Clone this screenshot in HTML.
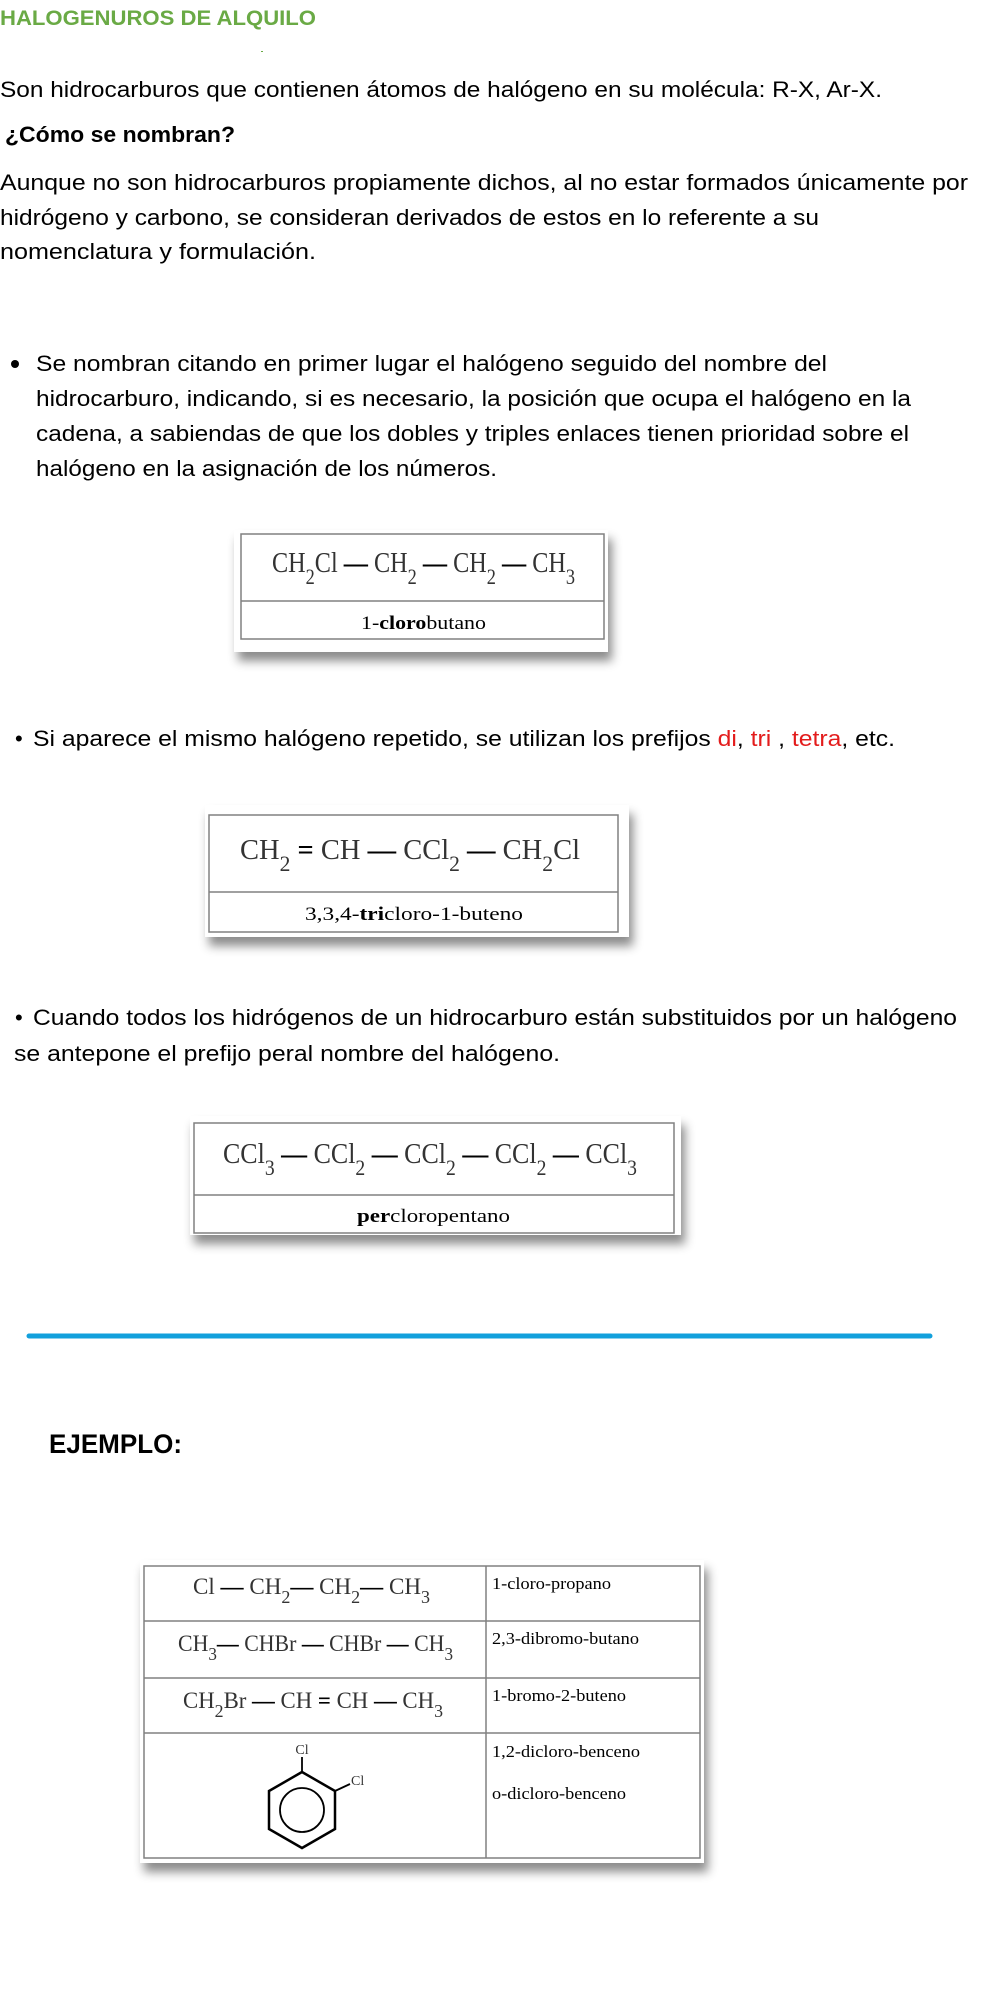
<!DOCTYPE html>
<html><head><meta charset="utf-8"><style>
html,body{margin:0;padding:0;background:#fff;width:984px;height:2004px;overflow:hidden}
svg{display:block}
.b{font-family:"Liberation Sans",sans-serif;font-size:22px;fill:#000}
.f{font-family:"Liberation Serif",serif;font-size:29px;fill:#333}
.s{font-size:22px}
.l{font-family:"Liberation Serif",serif;font-size:19px;fill:#000}
.t{font-family:"Liberation Serif",serif;font-size:23px;fill:#333}
.tl{font-family:"Liberation Serif",serif;font-size:17px;fill:#000}
.box{fill:#fff;filter:url(#sh)}
.in{fill:none;stroke:#808080;stroke-width:1.5}
</style></head><body>
<svg width="984" height="2004" viewBox="0 0 984 2004" xmlns="http://www.w3.org/2000/svg">
<defs><filter id="sh" x="-10%" y="-10%" width="125%" height="140%"><feDropShadow dx="4" dy="9" stdDeviation="5" flood-color="#000" flood-opacity="0.45"/></filter></defs>

<text x="0" y="25" font-family="Liberation Sans,sans-serif" font-weight="bold" font-size="21" fill="#6aaa45" textLength="316" lengthAdjust="spacingAndGlyphs">HALOGENUROS DE ALQUILO</text>
<rect x="261" y="51" width="2" height="1" fill="#6aaa45"/>

<text class="b" x="0" y="97" textLength="882" lengthAdjust="spacingAndGlyphs">Son hidrocarburos que contienen átomos de halógeno en su molécula: R-X, Ar-X.</text>
<text class="b" x="5" y="142" font-weight="bold" textLength="230" lengthAdjust="spacingAndGlyphs">¿Cómo se nombran?</text>
<text class="b" x="0" y="190" textLength="968" lengthAdjust="spacingAndGlyphs">Aunque no son hidrocarburos propiamente dichos, al no estar formados únicamente por</text>
<text class="b" x="0" y="225" textLength="819" lengthAdjust="spacingAndGlyphs">hidrógeno y carbono, se consideran derivados de estos en lo referente a su</text>
<text class="b" x="0" y="259" textLength="316" lengthAdjust="spacingAndGlyphs">nomenclatura y formulación.</text>

<circle cx="15" cy="364" r="4" fill="#000"/>
<text class="b" x="36" y="371" textLength="791" lengthAdjust="spacingAndGlyphs">Se nombran citando en primer lugar el halógeno seguido del nombre del</text>
<text class="b" x="36" y="406" textLength="875" lengthAdjust="spacingAndGlyphs">hidrocarburo, indicando, si es necesario, la posición que ocupa el halógeno en la</text>
<text class="b" x="36" y="441" textLength="873" lengthAdjust="spacingAndGlyphs">cadena, a sabiendas de que los dobles y triples enlaces tienen prioridad sobre el</text>
<text class="b" x="36" y="476" textLength="461" lengthAdjust="spacingAndGlyphs">halógeno en la asignación de los números.</text>

<!-- box1 -->
<rect class="box" x="234" y="530" width="374" height="122"/>
<rect class="in" x="241" y="534" width="363" height="105"/>
<line x1="241" y1="601" x2="604" y2="601" stroke="#808080" stroke-width="1.5"/>
<text class="f" x="272" y="572" textLength="303" lengthAdjust="spacingAndGlyphs">CH<tspan class="s" dy="12">2</tspan><tspan dy="-12">Cl</tspan><tspan fill="#000" font-weight="bold"> — </tspan>CH<tspan class="s" dy="12">2</tspan><tspan dy="-12" fill="#000" font-weight="bold"> — </tspan>CH<tspan class="s" dy="12">2</tspan><tspan dy="-12" fill="#000" font-weight="bold"> — </tspan>CH<tspan class="s" dy="12">3</tspan></text>
<text class="l" x="361" y="629" textLength="125" lengthAdjust="spacingAndGlyphs">1-<tspan font-weight="bold">cloro</tspan>butano</text>

<text class="b" x="15" y="746" font-size="20">•</text>
<text class="b" x="33" y="746" textLength="862" lengthAdjust="spacingAndGlyphs">Si aparece el mismo halógeno repetido, se utilizan los prefijos <tspan fill="#e31c1c">di</tspan>, <tspan fill="#e31c1c">tri</tspan> , <tspan fill="#e31c1c">tetra</tspan>, etc.</text>

<!-- box2 -->
<rect class="box" x="205" y="805" width="424" height="132"/>
<rect class="in" x="209" y="815" width="409" height="117"/>
<line x1="209" y1="892" x2="618" y2="892" stroke="#808080" stroke-width="1.5"/>
<text class="f" x="240" y="859" textLength="340" lengthAdjust="spacingAndGlyphs">CH<tspan class="s" dy="12">2</tspan><tspan dy="-12" fill="#000" font-weight="bold"> = </tspan>CH <tspan fill="#000" font-weight="bold">—</tspan> CCl<tspan class="s" dy="12">2</tspan><tspan dy="-12" fill="#000" font-weight="bold"> — </tspan>CH<tspan class="s" dy="12">2</tspan><tspan dy="-12">Cl</tspan></text>
<text class="l" x="305" y="920" textLength="218" lengthAdjust="spacingAndGlyphs">3,3,4-<tspan font-weight="bold">tri</tspan>cloro-1-buteno</text>

<text class="b" x="15" y="1025" font-size="20">•</text>
<text class="b" x="33" y="1025" textLength="924" lengthAdjust="spacingAndGlyphs">Cuando todos los hidrógenos de un hidrocarburo están substituidos por un halógeno</text>
<text class="b" x="14" y="1061" textLength="546" lengthAdjust="spacingAndGlyphs">se antepone el prefijo peral nombre del halógeno.</text>

<!-- box3 -->
<rect class="box" x="190" y="1116" width="491" height="119"/>
<rect class="in" x="194" y="1123" width="480" height="110"/>
<line x1="194" y1="1195" x2="674" y2="1195" stroke="#808080" stroke-width="1.5"/>
<text class="f" x="223" y="1163" textLength="414" lengthAdjust="spacingAndGlyphs">CCl<tspan class="s" dy="12">3</tspan><tspan dy="-12" fill="#000" font-weight="bold"> — </tspan>CCl<tspan class="s" dy="12">2</tspan><tspan dy="-12" fill="#000" font-weight="bold"> — </tspan>CCl<tspan class="s" dy="12">2</tspan><tspan dy="-12" fill="#000" font-weight="bold"> — </tspan>CCl<tspan class="s" dy="12">2</tspan><tspan dy="-12" fill="#000" font-weight="bold"> — </tspan>CCl<tspan class="s" dy="12">3</tspan></text>
<text class="l" x="357" y="1222" textLength="153" lengthAdjust="spacingAndGlyphs"><tspan font-weight="bold">per</tspan>cloropentano</text>

<line x1="29" y1="1336" x2="930" y2="1336" stroke="#12a0dc" stroke-width="5" stroke-linecap="round"/>

<text x="49" y="1453" font-family="Liberation Sans,sans-serif" font-weight="bold" font-size="27" fill="#000" textLength="133" lengthAdjust="spacingAndGlyphs">EJEMPLO:</text>

<!-- table -->
<rect class="box" x="140" y="1560" width="564" height="303"/>
<rect class="in" x="144" y="1566" width="556" height="292"/>
<g stroke="#808080" stroke-width="1.5">
<line x1="486" y1="1566" x2="486" y2="1858"/>
<line x1="144" y1="1621" x2="700" y2="1621"/>
<line x1="144" y1="1678" x2="700" y2="1678"/>
<line x1="144" y1="1733" x2="700" y2="1733"/>
</g>
<text class="t" x="193" y="1594" textLength="237" lengthAdjust="spacingAndGlyphs">Cl <tspan fill="#000" font-weight="bold">—</tspan> CH<tspan font-size="18" dy="9">2</tspan><tspan dy="-9" fill="#000" font-weight="bold">—</tspan> CH<tspan font-size="18" dy="9">2</tspan><tspan dy="-9" fill="#000" font-weight="bold">—</tspan> CH<tspan font-size="18" dy="9">3</tspan></text>
<text class="t" x="178" y="1651" textLength="275" lengthAdjust="spacingAndGlyphs">CH<tspan font-size="18" dy="9">3</tspan><tspan dy="-9" fill="#000" font-weight="bold">—</tspan> CHBr <tspan fill="#000" font-weight="bold">—</tspan> CHBr <tspan fill="#000" font-weight="bold">—</tspan> CH<tspan font-size="18" dy="9">3</tspan></text>
<text class="t" x="183" y="1708" textLength="260" lengthAdjust="spacingAndGlyphs">CH<tspan font-size="18" dy="9">2</tspan><tspan dy="-9">Br</tspan> <tspan fill="#000" font-weight="bold">—</tspan> CH <tspan fill="#000" font-weight="bold">=</tspan> CH <tspan fill="#000" font-weight="bold">—</tspan> CH<tspan font-size="18" dy="9">3</tspan></text>
<text class="tl" x="492" y="1589" textLength="119" lengthAdjust="spacingAndGlyphs">1-cloro-propano</text>
<text class="tl" x="492" y="1644" textLength="147" lengthAdjust="spacingAndGlyphs">2,3-dibromo-butano</text>
<text class="tl" x="492" y="1701" textLength="134" lengthAdjust="spacingAndGlyphs">1-bromo-2-buteno</text>
<text class="tl" x="492" y="1757" textLength="148" lengthAdjust="spacingAndGlyphs">1,2-dicloro-benceno</text>
<text class="tl" x="492" y="1799" textLength="134" lengthAdjust="spacingAndGlyphs">o-dicloro-benceno</text>
<!-- benzene -->
<polygon points="302,1772 335,1791 335,1829 302,1848 269,1829 269,1791" fill="none" stroke="#000" stroke-width="2.5"/>
<circle cx="302" cy="1810" r="22" fill="none" stroke="#000" stroke-width="1.8"/>
<line x1="302" y1="1772" x2="302" y2="1757" stroke="#000" stroke-width="1.8"/>
<line x1="335" y1="1791" x2="350" y2="1784" stroke="#000" stroke-width="1.8"/>
<text x="302" y="1754" text-anchor="middle" font-family="Liberation Serif,serif" font-size="14" fill="#333">Cl</text>
<text x="351" y="1785" font-family="Liberation Serif,serif" font-size="14" fill="#333">Cl</text>
</svg>
</body></html>
